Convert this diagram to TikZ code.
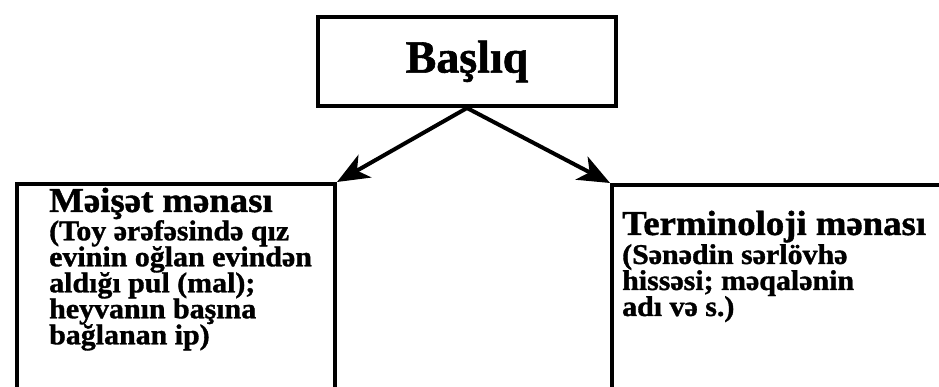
\documentclass[tikz,border=0pt]{standalone}
\usepackage{fontspec}
\setmainfont{Liberation Serif}[FakeStretch=1.05, BoldFeatures={FakeBold=1.2}]
\newfontfamily\titlefont{Liberation Serif}[BoldFeatures={FakeBold=1.2}]
\usetikzlibrary{arrows.meta,positioning}
\tikzset{
  box/.style={draw, line width=4pt, inner sep=0pt},
  arr/.style={line width=4pt, -{Stealth[length=32pt,width=26pt,inset=9pt]}},
  head/.style={font=\bfseries\fontsize{35}{35}\selectfont, inner sep=0pt, anchor=base west},
  body/.style={font=\bfseries\fontsize{28.5}{26}\selectfont, align=left, inner sep=0pt,
    execute at begin node={\lineskiplimit=-20pt\relax}}
}
\begin{document}
\begin{tikzpicture}[x=1pt,y=-1pt]
    \useasboundingbox (0,0) rectangle (939,387);
    \clip (0,0) rectangle (939,387);

    \node [box, minimum width=298pt, minimum height=89pt, font=\titlefont\bfseries\fontsize{46}{46}\selectfont] (title) at (467,61.5) {Başlıq};

    % the two lower boxes run off the bottom edge
    \node [box, minimum width=318pt, minimum height=240pt, anchor=north west] (left) at (15,182) {};
    \node [box, minimum width=400pt, minimum height=240pt, anchor=north west] (right) at (610,183) {};

    \draw [arr] (title.south) -- (left.north east);
    \draw [arr] (title.south) -- (right.north west);

    \node [head] (lhead) at (49,212) {Məişət mənası};
    \node [body, below=8pt of lhead.base west, anchor=north west] (ltext) {(Toy ərəfəsində qız\\evinin oğlan evindən\\aldığı pul (mal);\\heyvanın başına\\bağlanan ip)};

    \node [head] (rhead) at (622,235) {Terminoloji mənası};
    \node [body, below=9pt of rhead.base west, anchor=north west] (rtext) {(Sənədin sərlövhə\\hissəsi; məqalənin\\adı və s.)};
\end{tikzpicture}
\end{document}
